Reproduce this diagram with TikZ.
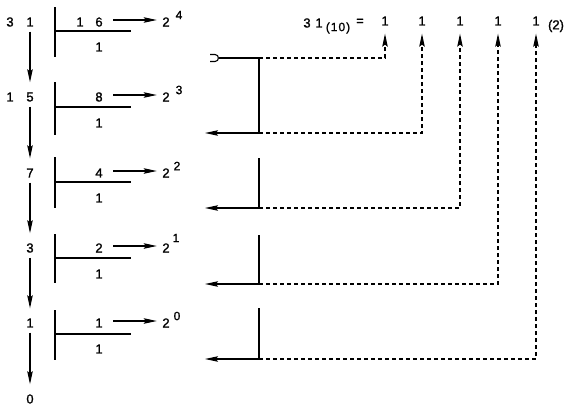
\documentclass[tikz,border=0pt]{standalone}
\usepackage{fontspec}
\setmainfont{Liberation Sans}
\newfontfamily\medfont{Liberation Sans}[FakeBold=1.3]
\usetikzlibrary{arrows.meta}
\begin{document}
\begin{tikzpicture}[x=1pt,y=-1pt,
  num/.style={font=\medfont\fontsize{13}{13}\selectfont, inner sep=1pt},
  sup/.style={font=\medfont\fontsize{12}{12}\selectfont, inner sep=0pt},
  ln/.style={line width=1.1pt},
  arr/.style={line width=1.1pt, -{Stealth[length=13pt,width=5.5pt,inset=2pt]}},
  dsh/.style={line width=1.1pt, dash pattern=on 4pt off 3pt},
  down/.style={arr, shorten <=4pt, shorten >=9pt},
  right/.style={arr, shorten <=9.4pt, shorten >=4.4pt},
]
\useasboundingbox (0,0) rectangle (567,407);
% quotients
\node[num] (q0a) at (10,22) {3};
\node[num] (q0) at (30,22) {1};
\node[num] (q1a) at (10,97) {1};
\node[num] (q1) at (30,97) {5};
\node[num] (q2) at (30,173) {7};
\node[num] (q3) at (30,248) {3};
\node[num] (q4) at (30,323) {1};
\node[num] (q5) at (30,399) {0};
\draw[down] (q0) -- (q1);
\draw[down] (q1) -- (q2);
\draw[down] (q2) -- (q3);
\draw[down] (q3) -- (q4);
\draw[down] (q4) -- (q5);
% division frames
\draw[ln] (55,7) -- (55,57) (55,31) -- (131,31);
\draw[ln] (55,82) -- (55,135) (55,107) -- (131,107);
\draw[ln] (55,157) -- (55,208) (55,182) -- (131,182);
\draw[ln] (55,234) -- (55,283) (55,258) -- (131,258);
\draw[ln] (55,310) -- (55,360) (55,334) -- (131,334);
% divisor values
\node[num] (d0a) at (80,22) {1};
\node[num] (d0) at (99,22) {6};
\node[num] (d1) at (99,97) {8};
\node[num] (d2) at (99,173) {4};
\node[num] (d3) at (99,248) {2};
\node[num] (d4) at (99,323) {1};
% remainders
\node[num] (r0) at (99,47) {1};
\node[num] (r1) at (99,123) {1};
\node[num] (r2) at (99,198) {1};
\node[num] (r3) at (99,274) {1};
\node[num] (r4) at (99,349) {1};
% powers
\node[num] (p0) at (166,22) {2};
\node[num] (p1) at (166,97) {2};
\node[num] (p2) at (166,173) {2};
\node[num] (p3) at (166,248) {2};
\node[num] (p4) at (166,323) {2};
\node[sup] (e0) at (179,15) {4};
\node[sup] (e1) at (179,90) {3};
\node[sup] (e2) at (177,166) {2};
\node[sup] (e3) at (176,238) {1};
\node[sup] (e4) at (177,316) {0};
\draw[right] ([yshift=2pt]d0.east) -- ([yshift=2pt]p0.west);
\draw[right] ([yshift=2pt]d1.east) -- ([yshift=2pt]p1.west);
\draw[right] ([yshift=2pt]d2.east) -- ([yshift=2pt]p2.west);
\draw[right] ([yshift=2pt]d3.east) -- ([yshift=2pt]p3.west);
\draw[right] ([yshift=2pt]d4.east) -- ([yshift=2pt]p4.west);
% result line
\node[num] (t3) at (307,23) {3};
\node[num] (t1) at (319,23) {1};
\node[num, font=\medfont\fontsize{12}{12}\selectfont] (t10) at (338,28) {(\kern1pt1\kern1pt0\kern1pt)};
\node[num] (teq) at (360,22) {=};
\node[num] (b1) at (385,21) {1};
\node[num] (b2) at (422,21) {1};
\node[num] (b3) at (460,21) {1};
\node[num] (b4) at (498,21) {1};
\node[num] (b5) at (536,21) {1};
\node[num] (t2) at (556,26) {(2)};
% right-side connectors
\coordinate (h) at (219,58);
\coordinate (j1) at (259,58);
\coordinate (j2) at (259,133);
\coordinate (s3) at (259,158);
\coordinate (j3) at (259,208);
\coordinate (s4) at (259,235);
\coordinate (j4) at (259,284);
\coordinate (s5) at (259,308);
\coordinate (j5) at (259,359);
\coordinate (l2) at (205,133);
\coordinate (l3) at (205,208);
\coordinate (l4) at (205,284);
\coordinate (l5) at (205,359);
\draw[ln] (210,54.5) -- (215,54.5) .. controls (219.5,54.5) and (219.5,61.5) .. (215,61.5) -- (210,61.5);
\draw[ln] (h) -- (j1) -- (j2);
\draw[arr] (j2) -- (l2);
\draw[ln] (s3) -- (j3);
\draw[arr] (j3) -- (l3);
\draw[ln] (s4) -- (j4);
\draw[arr] (j4) -- (l4);
\draw[ln] (s5) -- (j5);
\draw[arr] (j5) -- (l5);
\draw[dsh, arr, shorten >=7pt] (j1) -| (b1);
\draw[dsh, arr, shorten >=7pt] (j2) -| (b2);
\draw[dsh, arr, shorten >=7pt] (j3) -| (b3);
\draw[dsh, arr, shorten >=7pt] (j4) -| (b4);
\draw[dsh, arr, shorten >=7pt] (j5) -| (b5);
\end{tikzpicture}
\end{document}
